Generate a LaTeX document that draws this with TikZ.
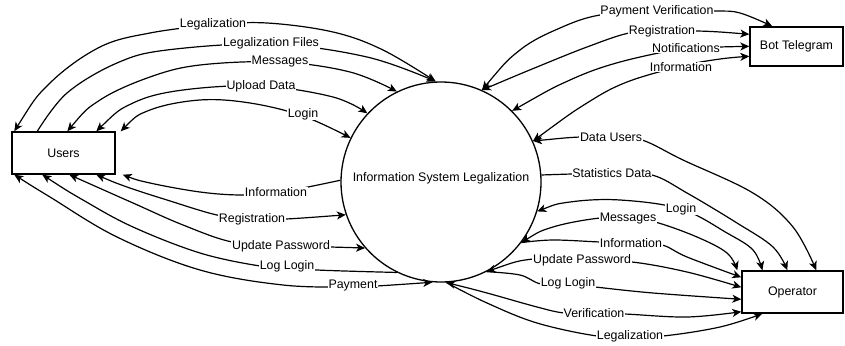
\documentclass[tikz,border=0pt]{standalone}
\usepackage{fontspec}
\setmainfont{Liberation Sans}
\usetikzlibrary{arrows.meta,calc}
\begin{document}
\begin{tikzpicture}[x=1pt,y=-1pt,
  >={Stealth[length=9pt,width=8pt,inset=2.5pt]},
  ent/.style={draw,line width=1.4pt,inner sep=0pt,font=\fontsize{12.4}{14}\selectfont},
  flow/.style={line width=1.2pt},
  lbl/.style={fill=white,inner sep=0.6pt,font=\fontsize{12.4}{14}\selectfont}]
\useasboundingbox (0,0) rectangle (845,345);
% entities
\node[ent,minimum width=103pt,minimum height=42pt] (users) at (63.5,153) {Users};
\node[ent,minimum width=93pt,minimum height=39pt] (bot) at (796.5,46.5) {Bot Telegram};
\node[ent,minimum width=101pt,minimum height=42pt] (op) at (792.5,292) {Operator};
\node[circle,draw,line width=1.3pt,minimum size=200pt,inner sep=0pt] (sys) at (441,182) {};
\node[font=\fontsize{12.4}{14}\selectfont] (systxt) at (441,178) {Information System Legalization};

% ---------- Users <-> System (top)
\draw[flow,<->] plot[smooth,tension=0.6] coordinates {([xshift=3pt]users.north west) (50,83) (100,47) (150,33) (213,25) (267,23) (333,32) (383,50) (sys.93)};
\draw[flow,->] plot[smooth,tension=0.6] coordinates {([xshift=26pt]users.north west) (67,93) (117,63) (167,50) (271,44) (367,57) (sys.93)};
\draw[flow,<->] plot[smooth,tension=0.6] coordinates {([xshift=56pt]users.north west) (100,100) (150,77) (200,65) (280,62) (350,72) (sys.116)};
\draw[flow,<->] plot[smooth,tension=0.6] coordinates {([xshift=85pt]users.north west) (133,103) (183,90) (261,86) (333,97) (sys.137)};
\draw[flow,<->] plot[smooth,tension=0.6] coordinates {([xshift=5pt]users.north east) (150,110) (200,100) (250,103) (303,116) (sys.154)};
% ---------- Users <-> System (bottom)
\draw[flow,<-] plot[smooth,tension=0.6] coordinates {([xshift=7pt]users.south east) (150,183) (200,192) (240,195) (276,193) (308,187) (sys.179)};
\draw[flow,<->] plot[smooth,tension=0.6] coordinates {([xshift=85pt]users.south west) (127,187) (167,200) (217,215) (252,219) (286,219) (sys.199)};
\draw[flow,<->] plot[smooth,tension=0.6] coordinates {([xshift=58pt]users.south west) (133,203) (183,225) (232,242) (281,246) (330,247) (sys.221)};
\draw[flow,<-] plot[smooth,tension=0.6] coordinates {([xshift=31pt]users.south west) (83,200) (133,227) (200,253) (260,266) (287,267) (317,270) (sys.244)};
\draw[flow,<->] plot[smooth,tension=0.6] coordinates {([xshift=3pt]users.south west) (50,197) (117,237) (200,270) (283,285) (353,287) (377,286) (sys.265)};
% ---------- System <-> Bot Telegram
\draw[flow,<->] plot[smooth,tension=0.6] coordinates {(sys.66) (520,50) (560,28) (600,15) (657,11) (715,11) (740,13) ([xshift=23pt]bot.north west)};
\draw[flow,<->] plot[smooth,tension=0.6] coordinates {(sys.66) (537,67) (587,47) (629,33) (662,31) (696,31) (720,32) ([yshift=-8pt]bot.north west)};
\draw[flow,<->] plot[smooth,tension=0.6] coordinates {(sys.45) (570,80) (620,62) (686,48) (719,47) ([yshift=-20pt]bot.north west)};
\draw[flow,<->] plot[smooth,tension=0.6] coordinates {(sys.24) (587,103) (627,82) (682,66) (720,59) ([yshift=-30pt]bot.north west)};
% ---------- System <-> Operator
\draw[flow,<->] plot[smooth,tension=0.6] coordinates {(sys.24) (580,137) (611,137) (642,140) (683,160) (753,193) (793,227) ([xshift=75pt]op.north west)};
\draw[flow,->] plot[smooth,tension=0.6] coordinates {(sys.4) (572,174) (612,173) (652,175) (687,193) (737,223) (773,247) ([xshift=46pt]op.north west)};
\draw[flow,<->] plot[smooth,tension=0.6] coordinates {(sys.343) (570,202) (620,200) (681,209) (727,233) (753,250) ([xshift=21pt]op.north west)};
\draw[flow,<->] plot[smooth,tension=0.6] coordinates {(sys.323) (553,227) (600,218) (628,219) (655,222) (697,237) (727,253) ([xshift=-4pt]op.north west)};
\draw[flow,->] plot[smooth,tension=0.6] coordinates {(sys.323) (553,240) (600,242) (631,243) (662,245) (687,257) ([yshift=-7pt]op.north west)};
\draw[flow,<->] plot[smooth,tension=0.6] coordinates {(sys.297) (533,259) (582,260) (632,262) (687,272) ([yshift=-17pt]op.north west)};
\draw[flow,->] plot[smooth,tension=0.6] coordinates {(sys.297) (520,275) (541,284) (568,284) (595,287) (653,293) ([yshift=-29pt]op.north west)};
\draw[flow,<->] plot[smooth,tension=0.6] coordinates {(sys.273) (487,293) (537,307) (564,313) (594,314) (624,314) (687,317) ([yshift=2pt]op.south west)};
\draw[flow,->] plot[smooth,tension=0.6] coordinates {(sys.273) (487,303) (537,323) (597,336) (630,336) (663,336) (720,327) ([xshift=21pt]op.south west)};

% ---------- labels
\node[lbl] (l1) at (213,24) {Legalization};
\node[lbl] (l2) at (271,43) {Legalization Files};
\node[lbl] (l3) at (280,62) {Messages};
\node[lbl] (l4) at (261,86) {Upload Data};
\node[lbl] (l5) at (303,114) {Login};
\node[lbl] (l6) at (276,192) {Information};
\node[lbl] (l7) at (252,219) {Registration};
\node[lbl] (l8) at (281,246) {Update Password};
\node[lbl] (l9) at (287,266) {Log Login};
\node[lbl] (l10) at (353,286) {Payment};
\node[lbl] (r1) at (657,11) {Payment Verification};
\node[lbl] (r2) at (662,31) {Registration};
\node[lbl] (r3) at (686,48) {Notifications};
\node[lbl] (r4) at (681,67) {Information};
\node[lbl] (r5) at (611,137) {Data Users};
\node[lbl] (r6) at (612,173) {Statistics Data};
\node[lbl] (r7) at (681,209) {Login};
\node[lbl] (r8) at (628,219) {Messages};
\node[lbl] (r9) at (631,243) {Information};
\node[lbl] (r10) at (582,260) {Update Password};
\node[lbl] (r11) at (568,283) {Log Login};
\node[lbl] (r12) at (594,313) {Verification};
\node[lbl] (r13) at (630,336) {Legalization};
\end{tikzpicture}
\end{document}
